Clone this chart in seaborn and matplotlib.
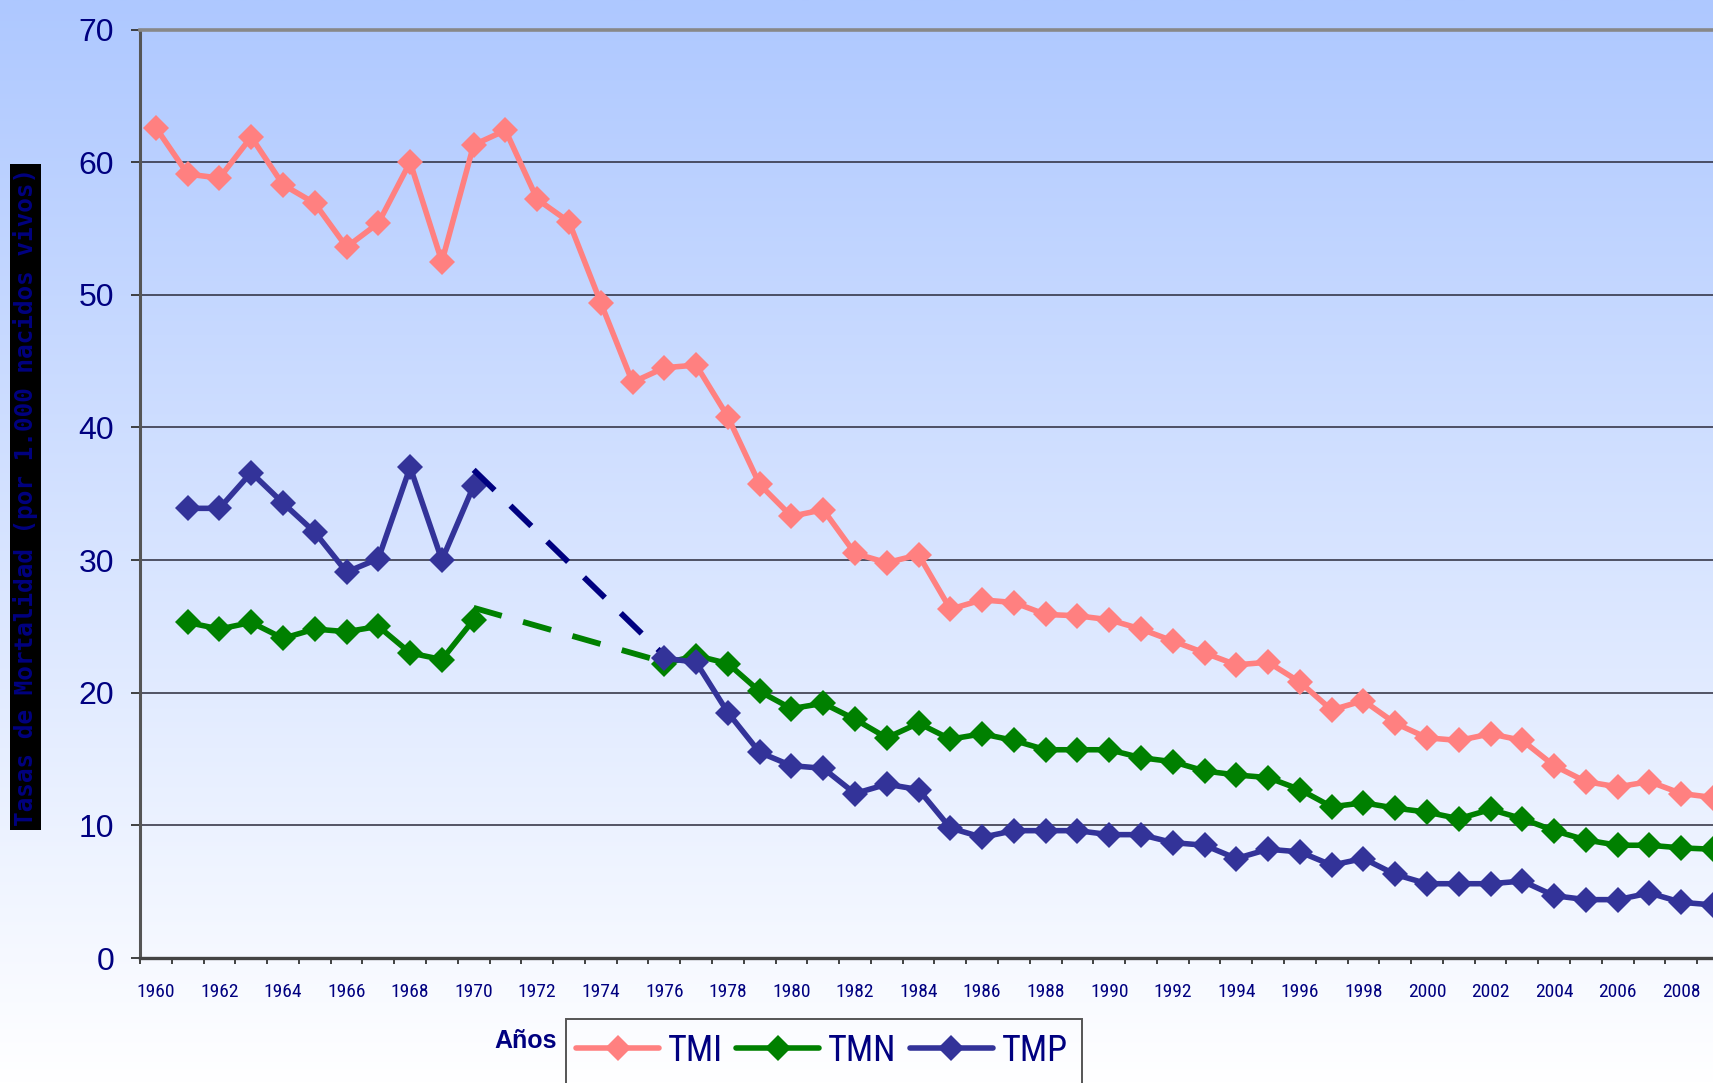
import numpy as np
import pandas as pd
import matplotlib
matplotlib.use("Agg")
import matplotlib.pyplot as plt
from matplotlib import font_manager
from matplotlib.patches import Rectangle
import seaborn as sns

# ---------------- data ----------------
years = list(range(1960, 2010))
tmi = [62.6, 59.1, 58.8, 61.9, 58.3, 56.9, 53.6, 55.4, 60.0, 52.5,
       61.3, 62.4, 57.2, 55.5, 49.4, 43.4, 44.5, 44.7, 40.8, 35.7,
       33.3, 33.8, 30.5, 29.8, 30.4, 26.3, 27.0, 26.8, 25.9, 25.8,
       25.5, 24.8, 23.9, 23.0, 22.1, 22.3, 20.8, 18.7, 19.4, 17.7,
       16.6, 16.4, 16.9, 16.4, 14.5, 13.3, 12.9, 13.3, 12.4, 12.1]

early_years = list(range(1961, 1971))
tmn_early = [25.3, 24.8, 25.3, 24.1, 24.8, 24.6, 25.0, 23.0, 22.5, 25.5]
tmp_early = [33.9, 33.9, 36.6, 34.3, 32.1, 29.1, 30.1, 37.0, 30.0, 35.6]

late_years = list(range(1976, 2010))
tmn_late = [22.2, 22.8, 22.2, 20.1, 18.8, 19.2, 18.0, 16.6, 17.7, 16.5,
            16.9, 16.4, 15.7, 15.7, 15.7, 15.1, 14.8, 14.1, 13.8, 13.6,
            12.7, 11.4, 11.7, 11.3, 11.0, 10.5, 11.2, 10.5, 9.6, 8.9,
            8.5, 8.5, 8.3, 8.2]
tmp_late = [22.6, 22.3, 18.5, 15.5, 14.5, 14.3, 12.4, 13.1, 12.7, 9.8,
            9.1, 9.6, 9.6, 9.6, 9.3, 9.3, 8.7, 8.5, 7.5, 8.2,
            8.0, 7.0, 7.5, 6.3, 5.6, 5.6, 5.6, 5.8, 4.7, 4.4,
            4.4, 4.9, 4.2, 4.0]

gap_years = [1970, 1976]
tmn_gap = [26.4, 22.3]
tmp_gap = [36.8, 22.8]

y_ticks = [0, 10, 20, 30, 40, 50, 60, 70]
x_tick_years = list(range(1960, 2010, 2))

# ---------------- style ----------------
sns.set_style("white")
names = {f.name for f in font_manager.fontManager.ttflist}
narrow = None
for cand in ["Liberation Sans Narrow", "Arial Narrow", "Roboto Condensed",
             "Open Sans Condensed", "Noto Sans Condensed", "DejaVu Sans Condensed"]:
    if cand in names:
        narrow = cand
        break
if narrow is None:
    for n in sorted(names):
        if "Narrow" in n or "Condensed" in n:
            narrow = n
            break
plt.rcParams["font.family"] = ["Liberation Sans", "DejaVu Sans"]

NAVY = "#000080"
C_TMI = "#FF8080"
C_TMN = "#008000"
C_TMP = "#333399"

W, H = 1713, 1083
fig = plt.figure(figsize=(W / 100, H / 100), dpi=100)

# gradient background
bg = fig.add_axes([0, 0, 1, 1], zorder=0)
t = np.linspace(0, 1, 512)[:, None, None]
top = np.array([174, 200, 255]) / 255.0
bot = np.array([255, 255, 255]) / 255.0
img = top * (1 - t) + bot * t
bg.imshow(img, aspect="auto", extent=[0, 1, 0, 1], interpolation="bilinear")
bg.set_xlim(0, 1); bg.set_ylim(0, 1)
bg.axis("off")

left, right, top_px, bottom_px = 140, W, 29.5, 958
ax = fig.add_axes([left / W, 1 - bottom_px / H, (right - left) / W, (bottom_px - top_px) / H], zorder=1)
ax.patch.set_alpha(0)

lw = 4.0
ms = 13

def seg(x, y, color, label=None, dashed=False):
    df = pd.DataFrame({"Año": x, "valor": y})
    kw = dict(data=df, x="Año", y="valor", ax=ax, color=color,
              lw=lw if not dashed else 4.2, legend=False, sort=False, estimator=None)
    if dashed:
        sns.lineplot(**kw)
        ln = ax.get_lines()[-1]
        ln.set_dashes((5.0, 3.8))
        ln.set_dash_capstyle("butt")
    else:
        sns.lineplot(marker="D", markersize=ms, markeredgecolor=color, markeredgewidth=0, **kw)
        ax.get_lines()[-1].set_solid_joinstyle("round")
    if label:
        ax.get_lines()[-1].set_label(label)

seg(years, tmi, C_TMI, label="TMI")
seg(early_years, tmn_early, C_TMN, label="TMN")
seg(gap_years, tmn_gap, C_TMN, dashed=True)
seg(late_years, tmn_late, C_TMN)
seg(early_years, tmp_early, C_TMP, label="TMP")
seg(gap_years, tmp_gap, NAVY, dashed=True)
seg(late_years, tmp_late, C_TMP)

# axes
ax.set_xlim(1959.5, 2009.0)
ax.set_ylim(0, 70)
ax.set_xlabel("")
ax.set_ylabel("")

ax.set_yticks(y_ticks)
ax.set_yticklabels([str(v) for v in y_ticks])
ax.tick_params(axis="y", which="major", direction="out", length=6.5, width=1.3,
               color="#333333", labelsize=23, labelcolor=NAVY, pad=12, left=True)
ax.set_xticks(x_tick_years)
if narrow:
    xfont = dict(family=narrow, size=14)
else:
    xfont = dict(family="Liberation Sans", size=12.5)
ax.set_xticklabels([str(v) for v in x_tick_years], fontdict=xfont)
ax.tick_params(axis="x", which="major", length=0, labelcolor=NAVY, pad=18)
ax.set_xticks(np.arange(1959.5, 2009.5, 1.0), minor=True)
ax.tick_params(axis="x", which="minor", direction="out", length=4.5, width=1.3,
               color="#333333", bottom=True)

ax.yaxis.grid(True, color="#2a2a3a", lw=1.1)
ax.xaxis.grid(False)
ax.set_axisbelow(True)
ax.spines["right"].set_visible(False)
ax.spines["top"].set_color("#888888")
ax.spines["top"].set_linewidth(2.6)
ax.spines["left"].set_color("#555555")
ax.spines["left"].set_linewidth(2.2)
ax.spines["bottom"].set_color("#444444")
ax.spines["bottom"].set_linewidth(2.4)

# y label with black box
bx0, bx1, by0, by1 = 10, 40.5, 164, 830
fig.patches.append(Rectangle((bx0 / W, 1 - by1 / H), (bx1 - bx0) / W, (by1 - by0) / H,
                             transform=fig.transFigure, facecolor="black", edgecolor="none", zorder=2))
fig.text((bx0 + bx1) / 2 / W, 1 - 497 / H, "Tasas de Mortalidad (por 1.000 nacidos vivos)",
         rotation=90, ha="center", va="center", color=NAVY, fontsize=17.6,
         family=["DejaVu Sans Mono", "DejaVu Sans"], fontweight="heavy", zorder=3)

# x label
fig.text(526 / W, 1 - 1041 / H, "Años", ha="center", va="center", color=NAVY,
         fontsize=18, fontweight="bold")

# legend frame (runs off the bottom edge like the original)
lx0, lx1, ly0, ly1 = 566, 1082, 1019, 1100
fig.patches.append(Rectangle((lx0 / W, 1 - ly1 / H), (lx1 - lx0) / W, (ly1 - ly0) / H,
                             transform=fig.transFigure, facecolor="none",
                             edgecolor="#555555", linewidth=1.4, zorder=4))

# legend entries
handles, labels = ax.get_legend_handles_labels()
if narrow:
    leg_font = dict(family=narrow, size=26)
    hl, htp, cs = 2.3, 0.25, 0.36
else:
    leg_font = dict(family="Liberation Sans", size=22.5)
    hl, htp, cs = 2.75, 0.3, 0.42
leg = ax.legend(handles, labels, loc="center left", bbox_to_anchor=(576 / W, 1 - 1051 / H),
                bbox_transform=fig.transFigure, ncol=3, prop=leg_font, frameon=False,
                handlelength=hl, handletextpad=htp, columnspacing=cs,
                borderpad=0, borderaxespad=0, numpoints=1)
for txt in leg.get_texts():
    txt.set_color(NAVY)
leg.set_zorder(5)

fig.savefig("out.png", dpi=100)
